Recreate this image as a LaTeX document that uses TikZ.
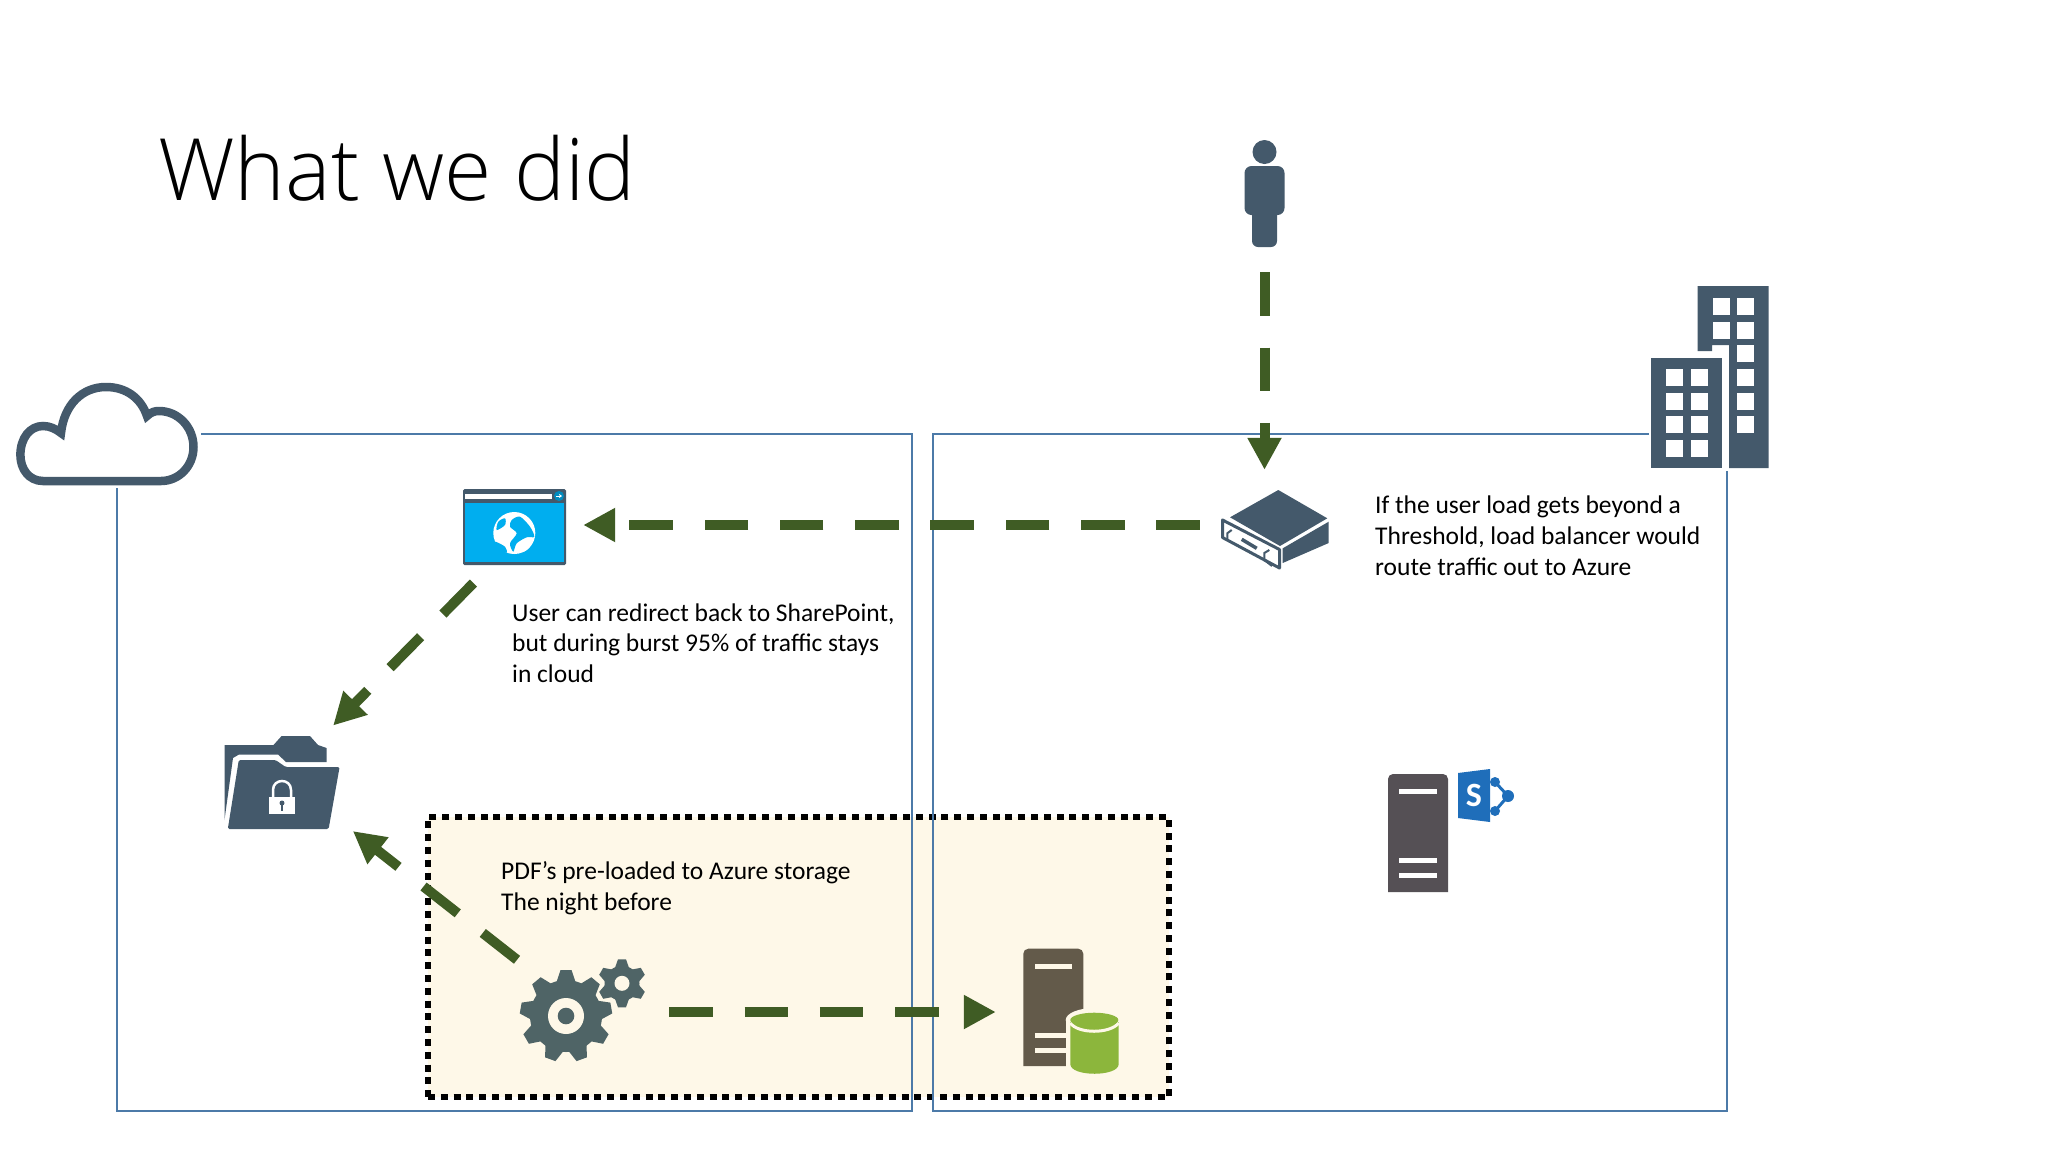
\documentclass[tikz,border=0pt]{standalone}
\usepackage{fontspec}
\setmainfont{Carlito}
\newfontfamily\titlefont{Open Sans Light}
\usetikzlibrary{arrows.meta}
\definecolor{slate}{HTML}{44596B}
\definecolor{flowgreen}{HTML}{3F5C24}
\definecolor{frameblue}{HTML}{4C7AA8}
\definecolor{cream}{HTML}{FEF8E8}
\definecolor{webblue}{HTML}{00AEEF}
\definecolor{gearslate}{HTML}{4F6466}
\definecolor{brownbox}{HTML}{635A4A}
\definecolor{dbgreen}{HTML}{8CB63C}
\definecolor{greybox}{HTML}{555055}
\definecolor{spblue}{HTML}{1F6EBA}

\begin{document}
\begin{tikzpicture}[x=1pt,y=-1pt]
    \tikzstyle{note} = [anchor=base west,align=left,inner sep=0pt,font=\fontsize{25.5}{30.6}\selectfont]
    \tikzstyle{iconbox} = [draw=none,fill=none,inner sep=0pt]
    \tikzstyle{flowline} = [draw=flowgreen,line width=10pt,dash pattern=on 43.5pt off 31.8pt,-{Triangle[length=32pt,width=32pt]}]
    \tikzstyle{frameline} = [draw=frameblue,line width=2pt]

    \useasboundingbox (0,0) rectangle (2048,1152);
    \fill[white] (0,0) rectangle (2048,1152);

    \node[anchor=base west,inner sep=0pt,font=\titlefont\fontsize{86}{100}\selectfont] (title) at (158,200) {What we did};

    \node[draw=black,fill=cream,line width=6pt,dash pattern=on 7pt off 5.8pt,minimum width=741pt,minimum height=280pt,inner sep=0pt] (burst) at (798.5,957) {};

    \draw[frameline] (201,434) -- (911.7,434) -- (911.7,1111) -- (117,1111) -- (117,488);
    \draw[frameline] (1648.6,434) -- (933,434) -- (933,1111) -- (1727.3,1111) -- (1727.3,471);

    \node[iconbox,minimum width=40pt,minimum height=82pt] (person) at (1264.5,206) {};
    \node[iconbox,minimum width=108pt,minimum height=90pt] (balancer) at (1275,525) {};
    \node[iconbox,minimum width=104pt,minimum height=80pt] (site) at (515,525) {};
    \node[iconbox,minimum width=116pt,minimum height=94pt] (folder) at (282,782) {};
    \node[iconbox,minimum width=126pt,minimum height=104pt] (gears) at (583,1012) {};
    \node[iconbox,minimum width=95pt,minimum height=127pt] (storage) at (1070.5,1012) {};
    \node[iconbox,minimum width=100pt,minimum height=123pt] (sharepoint) at (1448,831) {};

    % person
    \fill[slate] (1264.5,152) circle [radius=12];
    \fill[slate,rounded corners=7pt] (1244.5,166) -- (1284.5,166) -- (1284.5,215) -- (1244.5,215) -- cycle;
    \fill[slate,rounded corners=6pt] (1252,200) -- (1277,200) -- (1277,247) -- (1252,247) -- cycle;

    % buildings
    \fill[slate] (1697.6,286) -- (1768.6,286) -- (1768.6,468) -- (1729,468) -- (1729,345) -- (1712,345) -- (1712,351) -- (1697.6,351) -- cycle;
    \fill[slate] (1651,358) rectangle (1722,468);
    \foreach \y in {298,322} {
        \fill[white] (1712.6,\y) rectangle +(17,17);
    }
    \foreach \y in {298,322,345,369,393,416} {
        \fill[white] (1737,\y) rectangle +(17,17);
    }
    \foreach \y in {369,393,416,440} {
        \fill[white] (1666,\y) rectangle +(17,17);
        \fill[white] (1690.5,\y) rectangle +(17,17);
    }

    % cloud
    \draw[slate,line width=8.5pt] (43,481) .. controls (29,481) and (20.4,469) .. (20.4,455)
        .. controls (20.4,438) and (30,426) .. (43,426)
        .. controls (50,426) and (56,429) .. (61,433)
        .. controls (64,405) and (82,387) .. (106,387)
        .. controls (126,387) and (141,398) .. (147,416)
        .. controls (151,412) and (155,411) .. (159,411)
        .. controls (178,411) and (193.5,427) .. (193.5,447)
        .. controls (193.5,466) and (179,481) .. (161,481) -- cycle;

    % load balancer
    \fill[slate] (1278.3,490) -- (1327.3,518.3) -- (1280,546) -- (1230,517.3) -- cycle;
    \fill[slate] (1328.7,521.7) -- (1328.7,543) -- (1282.7,563) -- (1282.7,548.3) -- cycle;
    \draw[slate,line width=3pt,line join=round] (1222.5,520) -- (1279.5,549.5) -- (1279.5,568) -- (1222.5,537.5) -- cycle;
    \draw[slate,line width=3.5pt] (1241.7,539.3) -- (1256.7,548.3);
    \draw[slate,line width=2pt] (1231.7,530) -- (1227.3,533.3) -- (1227.3,541);
    \draw[slate,line width=2pt] (1269.3,550) -- (1264.3,553) -- (1264.3,560) -- (1272,566);

    % website
    \fill[slate,rounded corners=1.5pt] (463,489) rectangle (566,565);
    \fill[webblue] (465.3,502.7) rectangle (564.3,562);
    \fill[white] (465.3,494) rectangle (551.5,498.5);
    \fill[webblue!80!black] (559,496) circle [radius=5];
    \draw[white,line width=1pt,-{Stealth[length=3pt,width=4pt]}] (556,496) -- (562,496);
    \fill[white] (514.3,533) circle [radius=21];
    \fill[webblue] plot[smooth cycle] coordinates {(511.7,520) (520,516.7) (530,526.7) (534.3,536.7) (526.7,537.3) (516.7,543.3) (513.3,551.7) (510,543.3) (516.7,533.3) (510,526.7)};
    \fill[webblue] plot[smooth cycle] coordinates {(495,541.7) (505,546.7) (506.7,552.7) (500,550)};
    \fill[webblue] plot[smooth cycle] coordinates {(498.3,521.7) (505,518.3) (505,525) (496.7,530)};
    \fill[white] plot[smooth cycle] coordinates {(520,545) (530,540) (530,546.7) (523.3,551.7)};

    % folder
    \fill[slate] (224.5,745) -- (273.5,745) -- (281.6,736) -- (310,736) -- (318,745) -- (326.5,748) -- (326.5,762) -- (286,762) -- (278,754.5) -- (239,754.5) -- (233,758) -- (224.5,820) -- cycle;
    \fill[slate,rounded corners=1.5pt] (238.8,760) -- (275.5,760) -- (285.7,767) -- (339.6,767) -- (328.6,829) -- (227.8,829) -- cycle;
    \fill[white] (268.6,797) rectangle (295,814);
    \draw[white,line width=2.5pt] (273,797) -- (273,790) .. controls (273,778) and (291,778) .. (291,790) -- (291,797);
    \fill[slate] (282,803) circle [radius=2.5];
    \fill[slate] (281,803) rectangle (283,811);

    % gears
    \begin{scope}[shift={(566,1016)}]
        \fill[gearslate] (0,0) circle [radius=36];
        \foreach \a in {0,40,...,320} {
            \fill[gearslate,rotate=\a] (-9.5,-34) -- (-5.5,-46) -- (5.5,-46) -- (9.5,-34) -- cycle;
        }
        \fill[cream] (0,0) circle [radius=18];
        \fill[gearslate] (0,0) circle [radius=8.3];
    \end{scope}
    \begin{scope}[shift={(622,983.3)}]
        \fill[gearslate] (0,0) circle [radius=17.5];
        \foreach \a in {0,60,...,300} {
            \fill[gearslate,rotate=\a] (-7,-15.5) -- (-4,-24) -- (4,-24) -- (7,-15.5) -- cycle;
        }
        \fill[cream] (0,0) circle [radius=7.5];
    \end{scope}

    % storage
    \fill[brownbox] (1023.3,1066) [rounded corners=5pt] -- (1023.3,948.7) -- (1083.3,948.7) -- (1083.3,1000) [sharp corners] -- (1083.3,1066) -- cycle;
    \fill[cream] (1035,964) rectangle (1072.3,969.3);
    \fill[cream] (1035,1032.7) rectangle (1070,1037.7);
    \fill[cream] (1035,1047.7) rectangle (1070,1052.7);
    \fill[cream] (1094.3,1020) ellipse [x radius=28.6,y radius=12];
    \fill[cream] (1065.7,1020) rectangle (1122.9,1067);
    \fill[dbgreen] (1070.3,1022) -- (1070.3,1064) .. controls (1070.3,1077) and (1118.7,1077) .. (1118.7,1064) -- (1118.7,1022) -- cycle;
    \draw[cream,line width=3pt] (1070.3,1023) .. controls (1078,1034) and (1110,1034) .. (1118.7,1023);
    \fill[dbgreen] (1094.3,1020) ellipse [x radius=24,y radius=7.3];

    % sharepoint server
    \fill[greybox] (1388,892) [rounded corners=5pt] -- (1388,774) -- (1448,774) -- (1448,820) [sharp corners] -- (1448,892) -- cycle;
    \fill[white] (1399,789) rectangle (1437,794);
    \fill[white] (1399,858) rectangle (1437,863);
    \fill[white] (1399,873) rectangle (1437,878);
    \fill[spblue] (1458,773) -- (1490,769) -- (1490,822) -- (1458,818) -- cycle;
    \node[inner sep=0pt,text=white,font=\fontsize{34}{34}\selectfont\bfseries] (spletter) at (1474,795) {S};
    \draw[spblue,line width=3pt] (1495,782) -- (1508,796) -- (1495,811);
    \fill[spblue] (1495,782) circle [radius=5];
    \fill[spblue] (1508,796) circle [radius=6];
    \fill[spblue] (1495,811) circle [radius=5];

    \node[note] (balancernote) at (1375,575) {If the user load gets beyond a\\Threshold, load balancer would\\route traffic out to Azure};
    \node[note] (sitenote) at (512,682.5) {User can redirect back to SharePoint,\\but during burst 95\% of traffic stays\\in cloud};
    \node[note] (burstnote) at (501,910) {PDF’s pre-loaded to Azure storage\\The night before};

    \draw[flowline,shorten <=25pt,shorten >=10pt] (person.south) -- (person.south |- balancer.north);
    \draw[flowline,shorten <=21pt,shorten >=16pt] (balancer.west) -- (site.east);
    \draw[flowline,shorten <=25pt,shorten >=13pt] ([xshift=-24pt]site.south) -- ([xshift=42pt]folder.north);
    \draw[flowline,shorten >=3pt] ([xshift=-66pt]gears.north) -- ([xshift=68.5pt]folder.south);
    \draw[flowline,shorten <=23pt,shorten >=27pt] (gears.east) -- (storage.west);

\end{tikzpicture}
\end{document}
